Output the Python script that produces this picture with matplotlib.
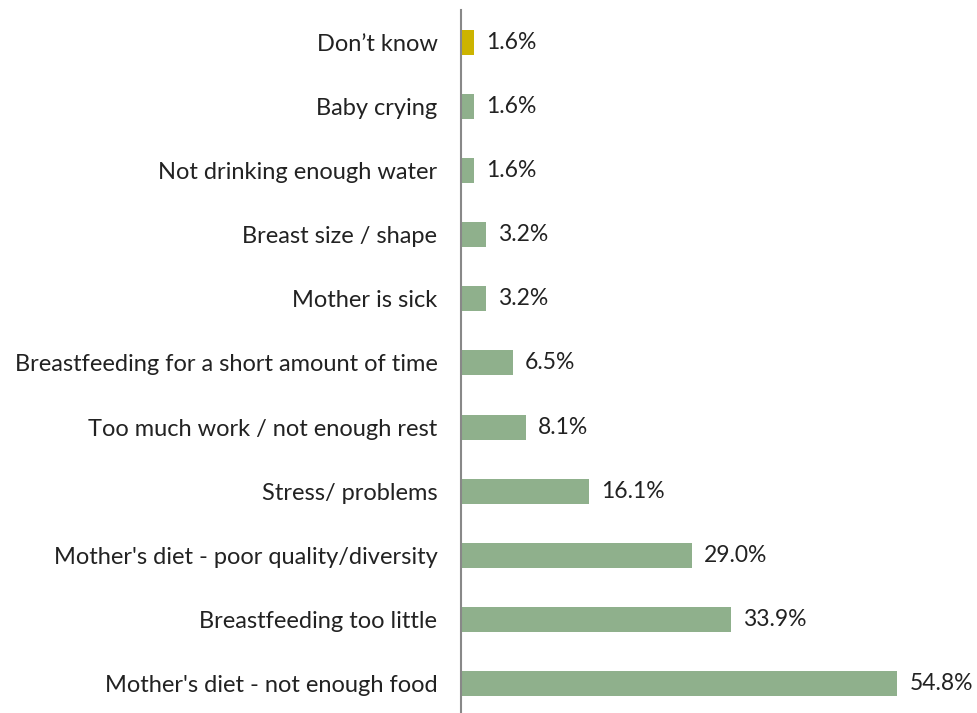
import matplotlib.pyplot as plt

# categories from top to bottom
labels = ["Don\u2019t know", "Baby crying", "Not drinking enough water",
          "Breast size / shape", "Mother is sick",
          "Breastfeeding for a short amount of time",
          "Too much work / not enough rest", "Stress/ problems",
          "Mother's diet - poor quality/diversity",
          "Breastfeeding too little", "Mother's diet - not enough food"]
values = [1.6, 1.6, 1.6, 3.2, 3.2, 6.5, 8.1, 16.1, 29.0, 33.9, 54.8]
colors = ["#CCB400"] + ["#8FB08C"] * 10

plt.rcParams['font.family'] = ['Lato', 'DejaVu Sans']

fig = plt.figure(figsize=(9.77, 7.13), dpi=100)
ax = fig.add_axes([461 / 977, -0.004, 516 / 977, 0.990])

ypos = list(range(len(labels)))
ax.barh(ypos, values, height=0.39, color=colors)
ax.set_ylim(len(labels) - 0.5, -0.5)
ax.set_xlim(0, 64.8)

for y, v in zip(ypos, values):
    ax.text(v + 1.5, y, f"{v:.1f}%", va='center', ha='left', fontsize=16.5,
            color='#222222', clip_on=False)

ax.set_yticks(ypos)
ax.set_yticklabels(labels, fontsize=17, color='#222222')
ax.tick_params(axis='y', length=0, pad=17)
ax.set_xticks([])
for s in ['top', 'right', 'bottom']:
    ax.spines[s].set_visible(False)
ax.spines['left'].set_color('#888888')
ax.spines['left'].set_linewidth(1.5)

fig.savefig('out.png', dpi=100)
